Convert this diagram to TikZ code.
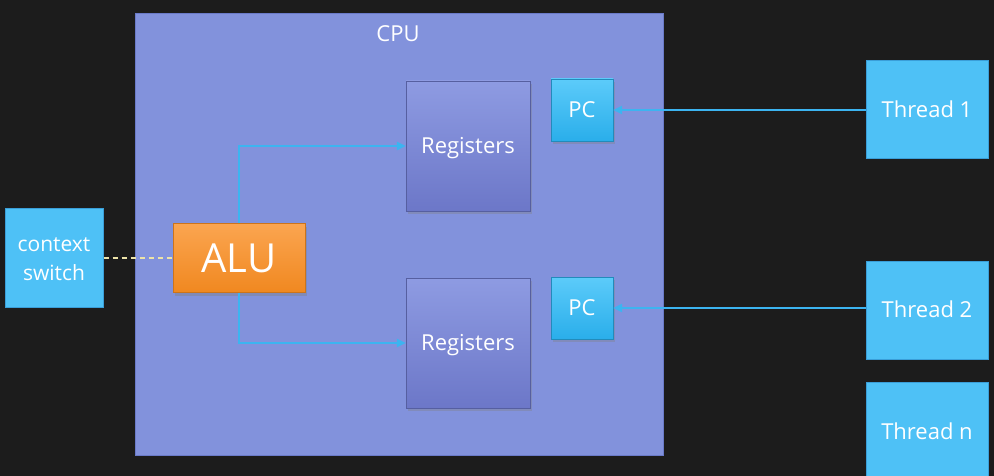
\documentclass[tikz,border=0pt]{standalone}
\usepackage{fontspec}
\setmainfont{Open Sans}
\usetikzlibrary{arrows.meta,shadows}
\definecolor{bgc}{HTML}{1C1C1C}
\definecolor{cpuc}{HTML}{8292DC}
\definecolor{cpub}{HTML}{6A7AC8}
\definecolor{regtop}{HTML}{8E9BE2}
\definecolor{regbot}{HTML}{6C77C8}
\definecolor{pctop}{HTML}{5CCBFA}
\definecolor{pcbot}{HTML}{2AAEEA}
\definecolor{thc}{HTML}{4EC1F6}
\definecolor{thb}{HTML}{3A9ED8}
\definecolor{alutop}{HTML}{FBA550}
\definecolor{alubot}{HTML}{F08820}
\definecolor{linec}{HTML}{3CB4F0}
\definecolor{dashc}{HTML}{EDE3A8}
\tikzset{
  x=1pt,y=-1pt,
  txt/.style={text=white,font=\fontsize{22}{26}\selectfont,text height=15.7pt,text depth=0pt},
  regbox/.style={txt,minimum width=124pt,minimum height=130pt,inner sep=0pt,
    top color=regtop,bottom color=regbot,draw=regbot!80!black,line width=0.4pt,
    drop shadow={shadow xshift=2pt,shadow yshift=-3pt,opacity=0.35}},
  pcbox/.style={txt,minimum width=62pt,minimum height=62pt,inner sep=0pt,
    top color=pctop,bottom color=pcbot,draw=pcbot!80!black,line width=0.4pt,
    drop shadow={shadow xshift=2pt,shadow yshift=-3pt,opacity=0.35}},
  thbox/.style={txt,minimum width=122pt,minimum height=98pt,inner sep=0pt,
    fill=thc,draw=thb,line width=1pt},
  conn/.style={draw=linec,line width=2.2pt,-{Triangle[length=9pt,width=8pt]}},
}
\begin{document}
\begin{tikzpicture}
\fill[bgc] (0,0) rectangle (994,476);
\useasboundingbox (0,0) rectangle (994,476);
% CPU
\node[draw=cpub,fill=cpuc,line width=0.8pt,minimum width=528pt,minimum height=442pt,inner sep=0pt,anchor=north west] (cpu) at (135,13) {};
\node[txt] (cpulabel) at (398,34) {CPU};
% registers
\node[regbox] (reg1) at (468,146) {Registers};
\node[regbox] (reg2) at (468,343) {Registers};
% PCs
\node[pcbox] (pc1) at (582,110) {PC};
\node[pcbox] (pc2) at (582,308) {PC};
% ALU
\node[txt,font=\fontsize{40}{44}\selectfont,text height=28.6pt,minimum width=132pt,minimum height=69pt,inner sep=0pt,
  top color=alutop,bottom color=alubot,draw=alubot!85!black,line width=0.4pt,
  drop shadow={shadow xshift=2pt,shadow yshift=-3pt,opacity=0.4}] (alu) at (239,258) {ALU};
% context switch
\node[text=white,align=center,font=\fontsize{21}{29}\selectfont,minimum width=98pt,minimum height=99pt,inner sep=0pt,
  fill=thc,draw=thb,line width=1pt] (ctx) at (54,258) {};
\node[text=white,align=center,font=\fontsize{21}{29}\selectfont,inner sep=0pt] (ctxlabel) at (54,259) {context\\switch};
% threads
\node[thbox] (t1) at (927,110) {Thread 1};
\node[thbox] (t2) at (927,310) {Thread 2};
\node[thbox,minimum height=110pt] (tn) at (927,437) {};
\node[txt] (tnlabel) at (927,432) {Thread n};
% connectors
\draw[conn] (t1.west) -- (pc1.east);
\draw[conn] (t2.west |- pc2.east) -- (pc2.east);
\draw[conn] (alu.north) |- (reg1.west);
\draw[conn] (alu.south) |- (reg2.west);
\draw[dashc,line width=1.4pt,dash pattern=on 5pt off 4pt] (ctx.east) -- (alu.west);
\end{tikzpicture}
\end{document}
